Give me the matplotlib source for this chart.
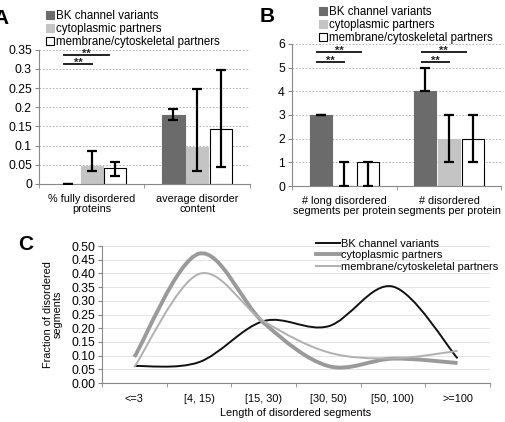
import numpy as np
import matplotlib
matplotlib.use("Agg")
import matplotlib.pyplot as plt
from matplotlib.patches import Patch, PathPatch
from matplotlib.lines import Line2D
from matplotlib.path import Path

plt.rcParams['font.family'] = ['Liberation Sans', 'DejaVu Sans']

series = ["BK channel variants", "cytoplasmic partners", "membrane/cytoskeletal partners"]
bar_colors = ["#6b6b6b", "#c4c4c4", "white"]

# panel A
cats_a = ["% fully disordered\nproteins", "average disorder\ncontent"]
vals_a = [[0.0, 0.18], [0.046, 0.097], [0.042, 0.143]]
lo_a = [[0.0, 0.168], [0.033, 0.035], [0.022, 0.045]]
hi_a = [[0.0, 0.195], [0.087, 0.247], [0.058, 0.298]]

# panel B
cats_b = ["# long disordered\nsegments per protein", "# disordered\nsegments per protein"]
vals_b = [[3.0, 4.0], [0.0, 2.0], [1.0, 2.0]]
lo_b = [[3.0, 4.0], [0.0, 1.0], [0.0, 1.0]]
hi_b = [[3.0, 5.0], [1.0, 3.0], [1.0, 3.0]]

# panel C
cats_c = ["<=3", "[4, 15)", "[15, 30)", "[30, 50)", "[50, 100)", ">=100"]
frac_bk = [0.062, 0.076, 0.226, 0.207, 0.352, 0.090]
frac_cyto = [0.095, 0.472, 0.220, 0.062, 0.089, 0.073]
frac_memb = [0.058, 0.398, 0.226, 0.112, 0.090, 0.117]

fig = plt.figure(figsize=(5.05, 4.22), dpi=100)

FS = 7.8
bw = 0.21


def bar_panel(ax, cats, vals, lo, hi, ymax, ystep, fmt):
    x = np.arange(len(cats))
    for i in range(3):
        xs = x + (i - 1) * (bw + 0.015)
        v = np.array(vals[i])
        ax.bar(xs, v, bw, color=bar_colors[i],
               edgecolor="black" if i == 2 else bar_colors[i], linewidth=0.8, zorder=2)
        yerr = [v - np.array(lo[i]), np.array(hi[i]) - v]
        ax.errorbar(xs, v, yerr=yerr, fmt="none", ecolor="black", elinewidth=1.6,
                    capsize=3.5, capthick=1.6, zorder=3)
    ax.set_xlim(-0.5, len(cats) - 0.5)
    ax.set_ylim(0, ymax)
    ticks = np.arange(0, ymax + 1e-9, ystep)
    ax.set_yticks(ticks)
    ax.set_yticklabels([fmt(t) for t in ticks], fontsize=FS + 1)
    ax.set_xticks(x)
    ax.set_xticklabels(cats, fontsize=FS, linespacing=1.05)
    ax.set_xticks([-0.5, 0.5, 1.5], minor=True)
    ax.tick_params(axis="x", which="major", length=0, pad=7)
    ax.tick_params(axis="x", which="minor", length=3, color="#888888")
    ax.tick_params(axis="y", length=3, color="#888888", pad=2)
    ax.yaxis.grid(True, linestyle=(0, (2, 2)), color="#aaaaaa", linewidth=0.6)
    ax.set_axisbelow(True)
    for s in ["top", "right"]:
        ax.spines[s].set_visible(False)
    for s in ["left", "bottom"]:
        ax.spines[s].set_color("#888888")


def sig(ax, x0, x1, y):
    ax.plot([x0, x1], [y, y], color="#222222", lw=1.4, clip_on=False)
    ax.annotate("**", ((x0 + x1) / 2, y), xytext=(0, -3), textcoords="offset points",
                ha="center", va="bottom", fontsize=8, fontweight="bold",
                color="#222222", annotation_clip=False)


axA = fig.add_axes([0.077, 0.564, 0.418, 0.318])
bar_panel(axA, cats_a, vals_a, lo_a, hi_a, 0.35, 0.05,
          lambda t: "0" if abs(t) < 1e-9 else f"{t:g}")
sig(axA, -0.26, 0.16, 0.337)
sig(axA, -0.26, 0.0, 0.313)

axB = fig.add_axes([0.578, 0.559, 0.415, 0.337])
bar_panel(axB, cats_b, vals_b, lo_b, hi_b, 6, 1, lambda t: f"{t:.0f}")
sig(axB, -0.26, 0.16, 5.66)
sig(axB, -0.26, 0.0, 5.24)
sig(axB, 0.74, 1.16, 5.66)
sig(axB, 0.74, 1.0, 5.24)

handles = [Patch(facecolor=c, edgecolor="black" if i == 2 else c, linewidth=0.8)
           for i, c in enumerate(bar_colors)]
for xy in [(0.075, 0.995), (0.615, 1.005)]:
    fig.legend(handles, series, loc="upper left", bbox_to_anchor=xy, frameon=False,
               fontsize=FS + 0.5, handlelength=0.7, handleheight=0.7, handletextpad=0.2,
               labelspacing=0.08, borderpad=0.2)

fig.text(0.002, 0.955, "A", fontsize=15, fontweight="bold", ha="center", va="center")
fig.text(0.53, 0.96, "B", fontsize=15, fontweight="bold", ha="center", va="center")
fig.text(0.05, 0.42, "C", fontsize=15, fontweight="bold", ha="center", va="center")

# panel C: smoothed lines
axC = fig.add_axes([0.202, 0.0924, 0.768, 0.3246])
xc = np.arange(len(cats_c))


def smooth_path(xs, ys):
    pts = np.column_stack([xs, ys]).astype(float)
    n = len(pts)
    verts = [pts[0]]
    codes = [Path.MOVETO]
    for i in range(n - 1):
        p0 = pts[max(i - 1, 0)]
        p1 = pts[i]
        p2 = pts[i + 1]
        p3 = pts[min(i + 2, n - 1)]
        c1 = p1 + (p2 - p0) / 6.0
        c2 = p2 - (p3 - p1) / 6.0
        verts += [c1, c2, p2]
        codes += [Path.CURVE4] * 3
    return Path(verts, codes)


line_styles = [("#111111", 1.4), ("#9a9a9a", 2.8), ("#b0b0b0", 1.4)]
for ys, (c, lw) in zip([frac_bk, frac_cyto, frac_memb], line_styles):
    axC.add_patch(PathPatch(smooth_path(xc, ys), facecolor="none", edgecolor=c,
                            lw=lw, zorder=3))

axC.set_xlim(-0.5, len(cats_c) - 0.5)
axC.set_ylim(0, 0.5)
yt = np.arange(0, 0.501, 0.05)
axC.set_yticks(yt)
axC.set_yticklabels([f"{t:.2f}" for t in yt], fontsize=FS + 1)
axC.set_xticks(xc)
axC.set_xticklabels(cats_c, fontsize=FS)
axC.set_xticks(np.arange(-0.5, len(cats_c), 1), minor=True)
axC.tick_params(axis="x", which="major", length=0, pad=8)
axC.tick_params(axis="x", which="minor", length=3, color="#888888")
axC.tick_params(axis="y", length=3, color="#888888", pad=2)
axC.yaxis.grid(True, color="#e4e4e4", linewidth=0.7)
axC.set_axisbelow(True)
for s in ["top", "right"]:
    axC.spines[s].set_visible(False)
for s in ["left", "bottom"]:
    axC.spines[s].set_color("#888888")
axC.set_xlabel("Length of disordered segments", fontsize=FS, labelpad=3)
axC.set_ylabel("Fraction of disordered\nsegments", fontsize=FS, labelpad=6, linespacing=1.0)

lh = [Line2D([], [], color=c, lw=lw) for c, lw in line_styles]
axC.legend(lh, series, loc="upper left", bbox_to_anchor=(0.535, 1.1), frameon=False,
           fontsize=7.9, handlelength=2.2, handletextpad=0.1, labelspacing=0.12,
           borderpad=0.1)

fig.savefig("out.png", dpi=100)
